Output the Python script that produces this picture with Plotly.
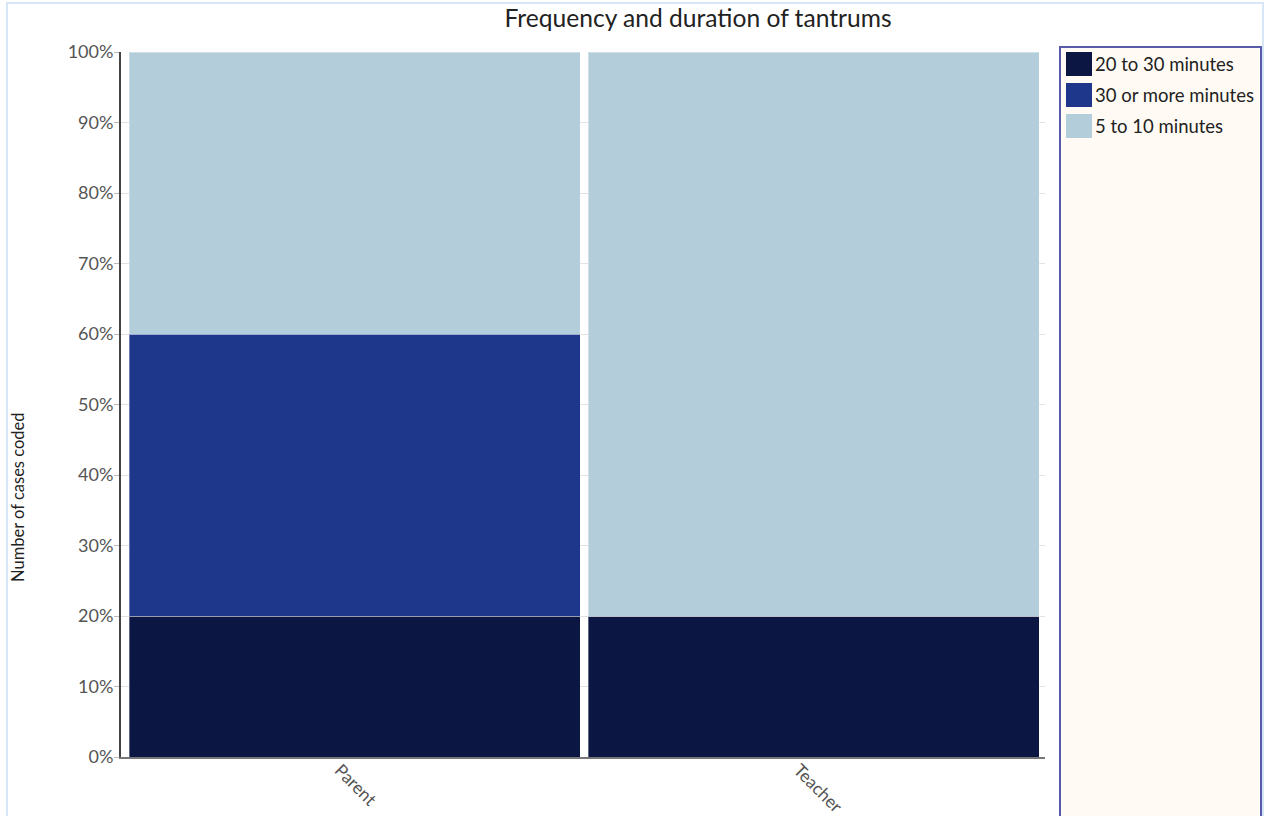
import plotly.graph_objects as go

# Share of coded cases per respondent, by tantrum duration
respondents = ["Parent", "Teacher"]
durations = ["20 to 30 minutes", "30 or more minutes", "5 to 10 minutes"]
shares = {
    "20 to 30 minutes": [20, 20],
    "30 or more minutes": [40, 0],
    "5 to 10 minutes": [40, 80],
}
colors = {
    "20 to 30 minutes": "#0b1642",
    "30 or more minutes": "#1f378b",
    "5 to 10 minutes": "#b3cddb",
}
y_ticks = list(range(0, 101, 10))

fig = go.Figure()
for d in durations:
    fig.add_trace(go.Bar(
        x=respondents, y=shares[d], name=d,
        marker=dict(color=colors[d], line=dict(color="rgba(255,255,255,0.35)", width=1)),
        showlegend=False,
    ))

font = "Lato, 'Open Sans', sans-serif"

# plot area in pixels, used to place the decorations in paper coordinates
L, R, T, B = 121, 1045, 52, 757
W, H = R - L, B - T


def px(x):
    return (x - L) / W


def py(y):
    return (B - y) / H


shapes = [
    # page frame
    dict(type="rect", xref="paper", yref="paper",
         x0=px(7), x1=px(1263), y0=py(860), y1=py(3),
         line=dict(color="#d6e6f4", width=2), fillcolor="rgba(0,0,0,0)", layer="below"),
    # legend panel
    dict(type="rect", xref="paper", yref="paper",
         x0=px(1060), x1=px(1261), y0=py(860), y1=py(47),
         line=dict(color="#5a5aaa", width=2), fillcolor="#fffbf4", layer="below"),
]
annotations = [
    dict(text="Number of cases coded", textangle=-90, xref="paper", yref="paper",
         x=px(18), y=py(497), xanchor="center", yanchor="middle",
         showarrow=False, font=dict(size=16.5, color="#222222", family=font)),
]

# legend: swatch + label per duration
row_gap = 31
for i, d in enumerate(durations):
    yc = 64 + i * row_gap
    shapes.append(dict(type="rect", xref="paper", yref="paper",
                       x0=px(1067), x1=px(1091), y0=py(yc + 11), y1=py(yc - 11),
                       line=dict(color=colors[d], width=2), fillcolor=colors[d]))
    annotations.append(dict(text=d, xref="paper", yref="paper", x=px(1093), y=py(yc),
                            xanchor="left", yanchor="middle", showarrow=False,
                            font=dict(size=18.5, color="#222222", family=font)))

fig.update_layout(
    width=1265, height=816,
    barmode="stack", bargap=0.018,
    paper_bgcolor="white", plot_bgcolor="white",
    margin=dict(l=L, r=1265 - R, t=T, b=816 - B),
    font=dict(family=font, color="#555555", size=18),
    showlegend=False,
    title=dict(text="Frequency and duration of tantrums", x=698 / 1265, xref="container",
               xanchor="center", y=1 - 18 / 816, yanchor="middle",
               font=dict(size=24.6, color="#222222", family=font)),
    xaxis=dict(range=[-0.509, 1.504], tickangle=45, showgrid=False, automargin=False,
               showline=True, linecolor="#777777", linewidth=2, ticks="",
               ticklabelshift=-15, ticklabelstandoff=-6,
               tickfont=dict(size=17.5, color="#555555")),
    yaxis=dict(range=[0, 100], tickvals=y_ticks, ticktext=[f"{v}%" for v in y_ticks],
               showgrid=True, gridcolor="#e2e2e2", gridwidth=1, automargin=False,
               showline=True, linecolor="#444444", linewidth=2,
               ticks="outside", ticklen=5, tickcolor="#bbbbbb", ticklabelstandoff=-3,
               tickfont=dict(size=18, color="#555555"), zeroline=False),
    shapes=shapes,
    annotations=annotations,
)

fig.write_html("out.html")
